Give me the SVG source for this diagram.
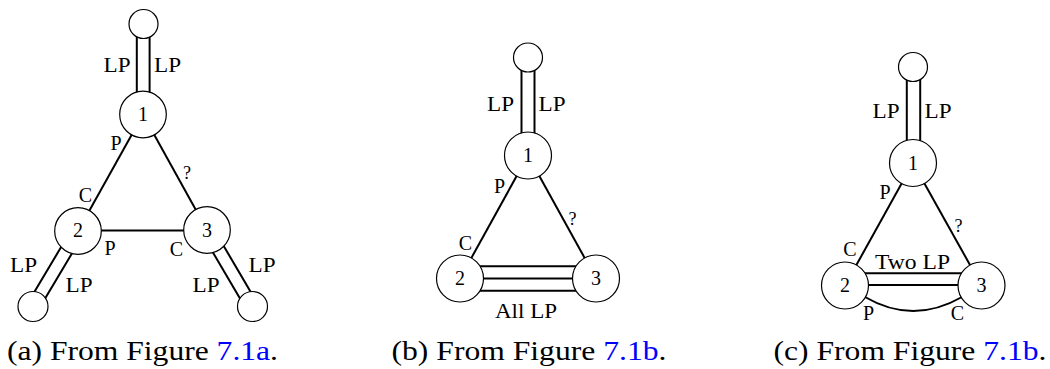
<svg xmlns="http://www.w3.org/2000/svg" width="1050" height="369" viewBox="0 0 1050 369">
<style>
.lbl{font-size:20px;text-anchor:middle}
.q{font-size:18px;text-anchor:middle}
.num{font-size:20px;text-anchor:middle}
.cap{font-size:27px}
.blue{fill:#0000ff}
.edge{stroke:#000;stroke-width:2;fill:none}
.node{fill:#fff;stroke:#000;stroke-width:1.2}
</style>
<rect width="1050" height="369" fill="#fff"/>
<g id="connectors">
<line class="edge" x1="136.8" y1="24" x2="136.8" y2="114.5"/>
<line class="edge" x1="149.6" y1="24" x2="149.6" y2="114.5"/>
<line class="edge" x1="143" y1="114.5" x2="78" y2="231"/>
<line class="edge" x1="143" y1="114.5" x2="207" y2="230"/>
<line class="edge" x1="78" y1="230.5" x2="207" y2="230.5"/>
<line class="edge" x1="72.6" y1="227.8" x2="27.6" y2="303.3"/>
<line class="edge" x1="83.4" y1="234.2" x2="38.4" y2="309.7"/>
<line class="edge" x1="201.6" y1="233.2" x2="246.6" y2="309.7"/>
<line class="edge" x1="212.4" y1="226.8" x2="257.4" y2="303.3"/>
<line class="edge" x1="521.5" y1="57.5" x2="521.5" y2="155.5"/>
<line class="edge" x1="534.5" y1="57.5" x2="534.5" y2="155.5"/>
<line class="edge" x1="528" y1="155.5" x2="460" y2="278.5"/>
<line class="edge" x1="528" y1="155.5" x2="596" y2="278.5"/>
<line class="edge" x1="460" y1="266.2" x2="596" y2="266.2"/>
<line class="edge" x1="460" y1="278.5" x2="596" y2="278.5"/>
<line class="edge" x1="460" y1="290.8" x2="596" y2="290.8"/>
<line class="edge" x1="906.8" y1="67" x2="906.8" y2="163"/>
<line class="edge" x1="920.2" y1="67" x2="920.2" y2="163"/>
<line class="edge" x1="913" y1="163" x2="845" y2="285.5"/>
<line class="edge" x1="913" y1="163" x2="981.5" y2="285.5"/>
<line class="edge" x1="845" y1="273.3" x2="981.5" y2="273.3"/>
<line class="edge" x1="845" y1="285" x2="981.5" y2="285"/>
<path class="edge" d="M865,297 Q913,325 962,297"/>
</g>
<g id="panel-a" font-family="Liberation Serif, Times New Roman, serif" fill="#000">
<g id="a-top"><circle class="node" cx="143.5" cy="24" r="14.5"/></g>
<g id="a-n1"><circle class="node" cx="143" cy="114.5" r="23.3"/><text class="num" x="143" y="120.7">1</text></g>
<g id="a-n2"><circle class="node" cx="78" cy="231" r="23.3"/><text class="num" x="78" y="236.7">2</text></g>
<g id="a-n3"><circle class="node" cx="207" cy="230" r="23.3"/><text class="num" x="207" y="236.5">3</text></g>
<g id="a-bl"><circle class="node" cx="33" cy="306.5" r="15"/></g>
<g id="a-br"><circle class="node" cx="252.5" cy="306.5" r="15"/></g>
<text class="lbl" x="117" y="72" textLength="27" lengthAdjust="spacingAndGlyphs">LP</text>
<text class="lbl" x="167.5" y="72" textLength="27" lengthAdjust="spacingAndGlyphs">LP</text>
<text class="lbl" x="116" y="150">P</text>
<text class="lbl" x="85.5" y="202">C</text>
<text class="q" x="187" y="179">?</text>
<text class="lbl" x="110" y="255">P</text>
<text class="lbl" x="176.5" y="255.5">C</text>
<text class="lbl" x="23.5" y="272" textLength="27" lengthAdjust="spacingAndGlyphs">LP</text>
<text class="lbl" x="79" y="291.5" textLength="27" lengthAdjust="spacingAndGlyphs">LP</text>
<text class="lbl" x="262" y="271.5" textLength="27" lengthAdjust="spacingAndGlyphs">LP</text>
<text class="lbl" x="206" y="291.5" textLength="27" lengthAdjust="spacingAndGlyphs">LP</text>
<text class="cap" x="7" y="360" textLength="271" lengthAdjust="spacingAndGlyphs">(a) From Figure <tspan class="blue">7.1a</tspan>.</text>
</g>
<g id="panel-b" font-family="Liberation Serif, Times New Roman, serif" fill="#000">
<g id="b-top"><circle class="node" cx="528" cy="57.5" r="14.5"/></g>
<g id="b-n1"><circle class="node" cx="528" cy="155.5" r="23.5"/><text class="num" x="528" y="162">1</text></g>
<g id="b-n2"><circle class="node" cx="460" cy="278.5" r="23.5"/><text class="num" x="460" y="285">2</text></g>
<g id="b-n3"><circle class="node" cx="596" cy="278.5" r="23.5"/><text class="num" x="596" y="285">3</text></g>
<text class="lbl" x="500.5" y="111" textLength="27" lengthAdjust="spacingAndGlyphs">LP</text>
<text class="lbl" x="552" y="111" textLength="27" lengthAdjust="spacingAndGlyphs">LP</text>
<text class="lbl" x="499.5" y="192.5">P</text>
<text class="lbl" x="465.5" y="250">C</text>
<text class="q" x="572.5" y="225">?</text>
<text class="lbl" x="526" y="318" textLength="62" lengthAdjust="spacingAndGlyphs">All LP</text>
<text class="cap" x="391.5" y="360" textLength="275" lengthAdjust="spacingAndGlyphs">(b) From Figure <tspan class="blue">7.1b</tspan>.</text>
</g>
<g id="panel-c" font-family="Liberation Serif, Times New Roman, serif" fill="#000">
<g id="c-top"><circle class="node" cx="913" cy="67" r="14.5"/></g>
<g id="c-n1"><circle class="node" cx="913" cy="163" r="23.5"/><text class="num" x="913" y="169.5">1</text></g>
<g id="c-n2"><circle class="node" cx="845" cy="285.5" r="23.5"/><text class="num" x="845" y="291.5">2</text></g>
<g id="c-n3"><circle class="node" cx="981.5" cy="285.5" r="23.5"/><text class="num" x="981.5" y="291.5">3</text></g>
<text class="lbl" x="886" y="118" textLength="27" lengthAdjust="spacingAndGlyphs">LP</text>
<text class="lbl" x="938" y="118" textLength="27" lengthAdjust="spacingAndGlyphs">LP</text>
<text class="lbl" x="885" y="199">P</text>
<text class="q" x="958.5" y="231.5">?</text>
<text class="lbl" x="850" y="256">C</text>
<text class="lbl" x="912.5" y="268.5" textLength="75" lengthAdjust="spacingAndGlyphs">Two LP</text>
<text class="lbl" x="868.5" y="320">P</text>
<text class="lbl" x="957.5" y="320">C</text>
<text class="cap" x="773.5" y="360" textLength="273" lengthAdjust="spacingAndGlyphs">(c) From Figure <tspan class="blue">7.1b</tspan>.</text>
</g>
</svg>
